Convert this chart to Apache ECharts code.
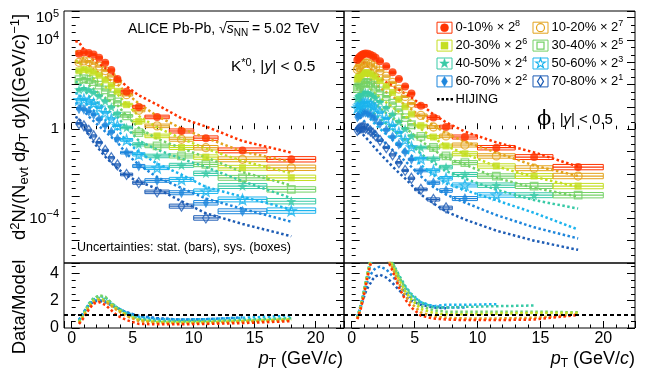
<!DOCTYPE html>
<html>
<head>
<meta charset="utf-8">
<script src="https://cdn.jsdelivr.net/npm/echarts@6/dist/echarts.min.js"></script>
<style>
html, body { margin: 0; padding: 0; background: #fff; }
#chart { width: 657px; height: 387px; }
</style>
</head>
<body>
<div id="chart"></div>
<script>
// all yields below are log10 of d2N/(Nevt dpT dy) including the 2^n scale factor
const classes = ['0-10%', '10-20%', '20-30%', '30-40%', '40-50%', '50-60%', '60-70%', '70-80%'];
const powers = [8, 7, 6, 5, 4, 3, 2, 1];
const colors = ['#ff3300', '#e3a31c', '#c4de22', '#74d166', '#38caa6', '#1cb4ee', '#1d86dc', '#1e5db5'];

// K*0
const kstarPt = [0.6, 1.0, 1.4, 1.8, 2.25, 2.75, 3.25, 3.75, 4.5, 5.5, 7, 9, 11, 14, 18];
const kstarEdges = [0.4, 0.8, 1.2, 1.6, 2.0, 2.5, 3.0, 3.5, 4.0, 5, 6, 8, 10, 12, 16, 20];
const kstarSys = [0.05, 0.05, 0.05, 0.05, 0.05, 0.05, 0.05, 0.05, 0.06, 0.07, 0.08, 0.09, 0.10, 0.11, 0.12];
const kstar0010 = [3.38, 3.45, 3.42, 3.35, 3.20, 2.98, 2.65, 2.25, 1.68, 1.00, 0.55, -0.08, -0.40, -0.95, -1.35];
const kstar1020 = [3.00, 3.06, 3.03, 2.96, 2.83, 2.63, 2.39, 2.13, 1.55, 0.85, 0.15, -0.45, -0.83, -1.35, -1.73];
const kstar2030 = [2.62, 2.68, 2.64, 2.56, 2.42, 2.21, 1.96, 1.70, 1.10, 0.35, -0.30, -0.82, -1.25, -1.73, -2.18];
const kstar3040 = [2.22, 2.27, 2.22, 2.13, 1.98, 1.76, 1.50, 1.23, 0.60, -0.15, -0.75, -1.20, -1.58, -2.18, -2.70];
const kstar4050 = [1.78, 1.82, 1.76, 1.66, 1.50, 1.27, 1.00, 0.72, 0.08, -0.68, -1.20, -1.62, -1.98, -2.55, -3.23];
const kstar5060 = [1.32, 1.34, 1.27, 1.16, 0.98, 0.74, 0.46, 0.17, -0.48, -1.13, -1.73, -2.25, -2.78, -3.15, -3.65];
const kstar6070 = [0.92, 0.90, 0.80, 0.66, 0.45, 0.18, -0.12, -0.43, -1.05, -1.65, -2.30, -2.85, -3.30, -3.68, null];
const kstar7080 = [0.25, 0.15, -0.05, -0.30, -0.60, -0.95, -1.28, -1.60, -2.03, -2.40, -2.81, -3.45, -3.98, null, null];

const kstarModelPt = [0.3, 0.6, 1.0, 1.4, 1.8, 2.25, 2.75, 3.25, 3.75, 4.5, 5.5, 7, 9, 11, 14, 18];
const kstarHij0010 = [3.95, 3.90, 3.57, 3.29, 3.09, 2.93, 2.75, 2.55, 2.30, 1.92, 1.52, 1.10, 0.49, 0.12, -0.53, -1.05];
const kstarHij1020 = [3.50, 3.46, 3.13, 2.87, 2.68, 2.52, 2.34, 2.18, 2.02, 1.61, 1.15, 0.59, 0.03, -0.39, -1.00, -1.47];
const kstarHij2030 = [3.06, 3.02, 2.70, 2.45, 2.26, 2.09, 1.90, 1.73, 1.57, 1.12, 0.59, 0.08, -0.42, -0.87, -1.43, -1.97];
const kstarHij3040 = [2.60, 2.57, 2.25, 1.99, 1.80, 1.60, 1.40, 1.23, 1.07, 0.60, 0.06, -0.43, -0.85, -1.26, -1.92, -2.52];
const kstarHij4050 = [2.12, 2.08, 1.78, 1.50, 1.32, 1.13, 0.92, 0.73, 0.55, 0.06, -0.51, -0.92, -1.32, -1.70, -2.33, -3.09];
const kstarHij5060 = [1.62, 1.58, 1.28, 1.03, 0.84, 0.64, 0.42, 0.20, -0.01, -0.53, -1.03, -1.54, -2.04, -2.59, -3.03, -3.60];
const kstarHij6070 = [1.18, 1.14, 0.82, 0.57, 0.36, 0.14, -0.11, -0.35, -0.59, -1.11, -1.59, -2.15, -2.64, -3.11, -3.57, -4.15];
const kstarHij7080 = [0.55, 0.49, 0.09, -0.27, -0.59, -0.90, -1.23, -1.51, -1.76, -2.09, -2.35, -2.67, -3.23, -3.77, -4.25, -4.80];

const kstarRatio0010 = [0.30, 0.75, 1.35, 1.80, 1.90, 1.70, 1.30, 0.90, 0.58, 0.30, 0.27, 0.27, 0.30, 0.36, 0.50];
const kstarRatio1020 = [0.35, 0.85, 1.45, 1.90, 2.05, 1.95, 1.62, 1.28, 0.88, 0.50, 0.36, 0.33, 0.36, 0.45, 0.55];
const kstarRatio2030 = [0.40, 0.95, 1.55, 2.00, 2.15, 2.05, 1.70, 1.35, 0.95, 0.58, 0.42, 0.40, 0.42, 0.50, 0.62];
const kstarRatio3040 = [0.45, 1.05, 1.70, 2.15, 2.40, 2.30, 1.85, 1.45, 1.00, 0.62, 0.48, 0.45, 0.48, 0.55, 0.66];
const kstarRatio4050 = [0.50, 1.10, 1.80, 2.20, 2.35, 2.25, 1.85, 1.48, 1.05, 0.68, 0.52, 0.50, 0.52, 0.60, 0.72];
const kstarRatio5060 = [0.55, 1.15, 1.75, 2.10, 2.20, 2.10, 1.80, 1.50, 1.12, 0.80, 0.65, 0.62, 0.65, 0.75, 0.90];
const kstarRatio6070 = [0.60, 1.20, 1.70, 2.00, 2.05, 1.95, 1.70, 1.45, 1.15, 0.88, 0.70, 0.62, 0.65, 0.78, null];
const kstarRatio7080 = [0.58, 1.15, 1.65, 1.95, 2.00, 1.90, 1.68, 1.45, 1.15, 0.90, 0.72, 0.60, 0.62, null, null];

// phi
const phiPt = [0.45, 0.55, 0.65, 0.75, 0.85, 0.95, 1.1, 1.3, 1.5, 1.7, 1.9, 2.25, 2.75, 3.25, 3.75, 4.25, 4.75, 5.5, 6.5, 7.5, 9, 11.5, 14.5, 18];
const phiEdges = [0.4, 0.5, 0.6, 0.7, 0.8, 0.9, 1.0, 1.2, 1.4, 1.6, 1.8, 2.0, 2.5, 3.0, 3.5, 4.0, 4.5, 5.0, 6, 7, 8, 10, 13, 16, 20];
const phiSys = [0.05, 0.05, 0.05, 0.05, 0.05, 0.05, 0.05, 0.05, 0.05, 0.05, 0.05, 0.05, 0.05, 0.05, 0.05, 0.05, 0.05, 0.06, 0.07, 0.08, 0.09, 0.10, 0.11, 0.12];
const phi0010 = [3.10, 3.18, 3.25, 3.30, 3.34, 3.37, 3.39, 3.38, 3.34, 3.28, 3.20, 3.05, 2.82, 2.55, 2.25, 1.92, 1.60, 1.05, 0.52, 0.10, -0.35, -0.83, -1.25, -1.70];
const phi1020 = [2.68, 2.76, 2.83, 2.88, 2.92, 2.95, 2.97, 2.96, 2.92, 2.86, 2.78, 2.62, 2.38, 2.10, 1.80, 1.47, 1.15, 0.62, 0.10, -0.30, -0.71, -1.20, -1.75, -2.10];
const phi2030 = [2.25, 2.33, 2.40, 2.45, 2.49, 2.52, 2.54, 2.53, 2.49, 2.42, 2.34, 2.18, 1.93, 1.65, 1.34, 1.01, 0.68, 0.16, -0.35, -0.75, -1.10, -1.65, -2.10, -2.55];
const phi3040 = [1.82, 1.90, 1.97, 2.02, 2.06, 2.09, 2.10, 2.09, 2.04, 1.97, 1.89, 1.72, 1.46, 1.17, 0.86, 0.52, 0.20, -0.32, -0.82, -1.20, -1.50, -2.10, -2.55, -2.96];
const phi4050 = [1.38, 1.46, 1.53, 1.58, 1.62, 1.64, 1.65, 1.63, 1.58, 1.50, 1.41, 1.24, 0.97, 0.67, 0.35, 0.02, -0.30, -0.82, -1.32, -1.70, -2.03, -2.51, -2.96, null];
const phi5060 = [0.95, 1.03, 1.10, 1.15, 1.18, 1.20, 1.21, 1.18, 1.12, 1.04, 0.94, 0.76, 0.48, 0.17, -0.15, -0.48, -0.80, -1.32, -1.85, -2.20, -2.50, -2.95, null, null];
const phi6070 = [0.55, 0.62, 0.68, 0.72, 0.75, 0.76, 0.76, 0.72, 0.65, 0.56, 0.46, 0.26, -0.03, -0.35, -0.68, -1.02, -1.35, -1.85, -2.40, -2.75, -3.11, null, null, null];
const phi7080 = [-0.05, 0.00, 0.04, 0.06, 0.07, 0.07, 0.05, 0.00, -0.08, -0.18, -0.29, -0.50, -0.82, -1.15, -1.50, -1.85, -2.20, -2.70, -3.15, -3.53, null, null, null, null];

const phiModelPt = [0.3, 0.45, 0.55, 0.65, 0.75, 0.85, 0.95, 1.1, 1.3, 1.5, 1.7, 1.9, 2.25, 2.75, 3.25, 3.75, 4.25, 4.75, 5.5, 6.5, 7.5, 9, 11.5, 14.5, 18];
const phiHij0010 = [3.30, 3.29, 3.23, 3.17, 3.12, 3.06, 3.01, 2.91, 2.79, 2.67, 2.56, 2.45, 2.30, 2.10, 1.93, 1.77, 1.60, 1.42, 1.10, 0.67, 0.31, -0.11, -0.59, -1.04, -1.68];
const phiHij1020 = [2.87, 2.85, 2.78, 2.72, 2.68, 2.62, 2.57, 2.48, 2.36, 2.24, 2.13, 2.02, 1.86, 1.66, 1.46, 1.28, 1.09, 0.89, 0.56, 0.17, -0.18, -0.56, -1.05, -1.63, -2.10];
const phiHij2030 = [2.42, 2.40, 2.33, 2.27, 2.22, 2.17, 2.12, 2.03, 1.92, 1.80, 1.68, 1.58, 1.42, 1.20, 0.99, 0.78, 0.58, 0.36, 0.01, -0.39, -0.75, -1.10, -1.67, -2.14, -2.59];
const phiHij3040 = [1.98, 1.96, 1.88, 1.82, 1.78, 1.73, 1.68, 1.58, 1.47, 1.34, 1.22, 1.12, 0.95, 0.72, 0.49, 0.28, 0.06, -0.16, -0.52, -0.93, -1.28, -1.58, -2.18, -2.63, -3.02];
const phiHij4050 = [1.52, 1.50, 1.42, 1.37, 1.32, 1.28, 1.23, 1.13, 1.01, 0.88, 0.76, 0.65, 0.48, 0.24, -0.01, -0.24, -0.47, -0.70, -1.10, -1.50, -1.88, -2.22, -2.71, -3.18, -3.56];
const phiHij5060 = [1.08, 1.06, 0.99, 0.94, 0.89, 0.84, 0.79, 0.70, 0.58, 0.45, 0.32, 0.20, 0.02, -0.23, -0.48, -0.72, -0.96, -1.18, -1.60, -2.05, -2.43, -2.73, -3.19, -3.75, -4.50];
const phiHij6070 = [0.67, 0.65, 0.58, 0.53, 0.49, 0.44, 0.38, 0.30, 0.18, 0.06, -0.06, -0.18, -0.39, -0.66, -0.93, -1.19, -1.43, -1.69, -2.11, -2.60, -2.93, -3.29, -3.85, -4.40, -4.90];
const phiHij7080 = [0.07, 0.05, -0.02, -0.07, -0.14, -0.21, -0.27, -0.36, -0.48, -0.60, -0.74, -0.87, -1.09, -1.39, -1.67, -1.95, -2.21, -2.50, -2.93, -3.33, -3.69, -4.05, -4.55, -5.00, -5.41];

const phiRatio0010 = [0.65, 0.90, 1.20, 1.50, 1.90, 2.30, 3.00, 3.90, 4.70, 5.30, 5.60, 5.60, 5.20, 4.20, 3.00, 2.10, 1.50, 0.90, 0.70, 0.62, 0.58, 0.58, 0.62, 0.95];
const phiRatio1020 = [0.68, 0.95, 1.30, 1.60, 2.00, 2.40, 3.10, 4.00, 4.80, 5.40, 5.70, 5.70, 5.30, 4.40, 3.30, 2.40, 1.80, 1.15, 0.85, 0.75, 0.70, 0.70, 0.75, 1.00];
const phiRatio2030 = [0.70, 1.00, 1.35, 1.70, 2.10, 2.50, 3.20, 4.10, 4.90, 5.50, 5.80, 5.80, 5.40, 4.60, 3.60, 2.70, 2.10, 1.40, 1.10, 1.00, 1.00, 1.05, 1.10, 1.10];
const phiRatio3040 = [0.72, 1.05, 1.40, 1.75, 2.15, 2.60, 3.30, 4.20, 5.00, 5.60, 5.90, 5.90, 5.50, 4.80, 3.80, 2.90, 2.30, 1.60, 1.30, 1.20, 1.20, 1.20, 1.20, 1.15];
const phiRatio4050 = [0.75, 1.10, 1.45, 1.80, 2.20, 2.60, 3.30, 4.20, 5.00, 5.50, 5.80, 5.80, 5.40, 4.80, 3.90, 3.10, 2.50, 1.90, 1.50, 1.50, 1.55, 1.60, 1.65, null];
const phiRatio5060 = [0.78, 1.10, 1.45, 1.80, 2.20, 2.60, 3.20, 4.00, 4.70, 5.20, 5.50, 5.50, 5.10, 4.50, 3.70, 3.00, 2.40, 1.90, 1.60, 1.70, 1.70, 1.75, null, null];
const phiRatio6070 = [0.80, 1.10, 1.40, 1.70, 2.05, 2.40, 2.90, 3.50, 3.90, 4.20, 4.40, 4.50, 4.30, 3.80, 3.20, 2.60, 2.20, 1.80, 1.60, 1.50, 1.50, null, null, null];
const phiRatio7080 = [0.80, 1.05, 1.30, 1.60, 1.90, 2.20, 2.60, 3.00, 3.30, 3.60, 3.80, 3.90, 3.70, 3.30, 2.80, 2.30, 2.00, 1.70, 1.50, 1.45, null, null, null, null];

const kstarData = [kstar0010, kstar1020, kstar2030, kstar3040, kstar4050, kstar5060, kstar6070, kstar7080];
const kstarHij = [kstarHij0010, kstarHij1020, kstarHij2030, kstarHij3040, kstarHij4050, kstarHij5060, kstarHij6070, kstarHij7080];
const kstarRatio = [kstarRatio0010, kstarRatio1020, kstarRatio2030, kstarRatio3040, kstarRatio4050, kstarRatio5060, kstarRatio6070, kstarRatio7080];
const phiData = [phi0010, phi1020, phi2030, phi3040, phi4050, phi5060, phi6070, phi7080];
const phiHij = [phiHij0010, phiHij1020, phiHij2030, phiHij3040, phiHij4050, phiHij5060, phiHij6070, phiHij7080];
const phiRatio = [phiRatio0010, phiRatio1020, phiRatio2030, phiRatio3040, phiRatio4050, phiRatio5060, phiRatio6070, phiRatio7080];

const F = "'Liberation Sans', Arial, Helvetica, sans-serif";
const STAR = 'path://M0,-10L2.35,-3.24L9.51,-3.09L3.8,1.24L5.88,8.09L0,4L-5.88,8.09L-3.8,1.24L-9.51,-3.09L-2.35,-3.24Z';
const markerSymbols = ['circle', 'circle', 'rect', 'rect', STAR, STAR, 'diamond', 'diamond'];
const markerSizes = [8, 8, 7, 7.5, 10, 10, [6, 11], [6.5, 10]];

function rich(size) {
    let small = Math.round(size * 0.68);
    return {
        n: {fontSize: size, fontFamily: F, color: '#000', lineHeight: size + 4},
        i: {fontSize: size, fontFamily: F, fontStyle: 'italic', color: '#000', lineHeight: size + 4},
        phi: {fontSize: size + 6, fontFamily: "'DejaVu Serif', 'Liberation Serif', serif", color: '#000', lineHeight: size + 4},
        s: {fontSize: small, fontFamily: F, color: '#000', lineHeight: small, verticalAlign: 'top'},
        sub: {fontSize: small, fontFamily: F, color: '#000', lineHeight: small, verticalAlign: 'bottom'}
    };
}

function markerStyle(i) {
    let open = i % 2 === 1;
    return {
        symbol: markerSymbols[i],
        symbolSize: markerSizes[i],
        itemStyle: open
            ? {color: 'rgba(255,255,255,0)', borderColor: colors[i], borderWidth: 1.3}
            : {color: colors[i], borderWidth: 0}
    };
}

function boxRenderer(col) {
    return function (params, api) {
        let lo = api.value(0), hi = api.value(1), v = api.value(2), s = api.value(3);
        let p1 = api.coord([lo, v + s]);
        let p2 = api.coord([hi, v - s]);
        let c = api.coord([lo, v]);
        let d = api.coord([hi, v]);
        return {
            type: 'group',
            children: [
                {type: 'rect', shape: {x: p1[0], y: p1[1], width: p2[0] - p1[0], height: p2[1] - p1[1]},
                    style: {fill: 'none', stroke: col, lineWidth: 1}},
                {type: 'line', shape: {x1: c[0], y1: c[1], x2: d[0], y2: d[1]},
                    style: {stroke: col, lineWidth: 1.2}}
            ]
        };
    };
}

let series = [];

function addSpectra(pt, edges, sys, data, modelPt, model, xi, yi) {
    for (let i = 7; i >= 0; i--) {
        let boxes = [], pts = [], line = [];
        data[i].forEach(function (v, j) {
            if (v === null) return;
            boxes.push([edges[j], edges[j + 1], v, sys[j]]);
            pts.push([pt[j], v]);
        });
        model[i].forEach(function (v, j) {
            if (v !== null) line.push([modelPt[j], v]);
        });
        series.push({
            type: 'custom', xAxisIndex: xi, yAxisIndex: yi, z: 2, clip: true,
            data: boxes, encode: {x: [0, 1], y: 2}, renderItem: boxRenderer(colors[i])
        });
        series.push({
            type: 'line', xAxisIndex: xi, yAxisIndex: yi, z: 3, data: line,
            symbol: 'none', showSymbol: false,
            lineStyle: {color: colors[i], width: 2.5, type: [2.5, 2.5]}
        });
        series.push(Object.assign({
            type: 'scatter', xAxisIndex: xi, yAxisIndex: yi, z: 4, data: pts
        }, markerStyle(i)));
    }
}

function addRatios(pt, ratios, xi, yi) {
    for (let i = 7; i >= 0; i--) {
        let line = [];
        ratios[i].forEach(function (v, j) {
            if (v !== null) line.push([pt[j], v]);
        });
        let s = {
            type: 'line', xAxisIndex: xi, yAxisIndex: yi, z: 3, data: line,
            symbol: 'none', showSymbol: false,
            lineStyle: {color: colors[i], width: 2.5, type: [2.5, 2.5]}
        };
        if (i === 0) {
            s.z = 4;
            s.markLine = {
                silent: true, symbol: 'none', label: {show: false},
                lineStyle: {color: '#000', width: 2, type: [4, 3]},
                data: [{yAxis: 1}]
            };
        }
        series.push(s);
    }
}

addSpectra(kstarPt, kstarEdges, kstarSys, kstarData, kstarModelPt, kstarHij, 0, 0);
addSpectra(phiPt, phiEdges, phiSys, phiData, phiModelPt, phiHij, 1, 2);
addRatios(kstarPt, kstarRatio, 2, 4);
addRatios(phiPt, phiRatio, 3, 6);

let grids = [
    {left: 64, top: 11, width: 280, height: 252},
    {left: 344, top: 11, width: 291, height: 252},
    {left: 64, top: 263, width: 280, height: 65},
    {left: 344, top: 263, width: 291, height: 65}
].map(function (g) {
    return Object.assign({show: true, borderColor: '#000', borderWidth: 1, backgroundColor: 'transparent'}, g);
});

const xRange = [[-0.63, 22.32], [-0.61, 22.52]];
let xAxes = [0, 1, 2, 3].map(function (g) {
    return {
        type: 'value', gridIndex: g, position: 'bottom',
        min: xRange[g % 2][0], max: xRange[g % 2][1],
        axisLine: {show: false},
        axisTick: {show: true, inside: true, length: g < 2 ? 6 : 7, lineStyle: {color: '#000', width: 1}},
        minorTick: {show: true, splitNumber: 5, length: 3.5, lineStyle: {color: '#000', width: 1}},
        splitLine: {show: false},
        axisLabel: {
            show: g >= 2, margin: 3, fontSize: 16, fontFamily: F, color: '#000',
            formatter: function (v) {
                let r = Math.round(v);
                return (Math.abs(v - r) < 1e-6 && r % 5 === 0) ? String(r) : '';
            }
        }
    };
});

function logLabel(v) {
    let r = Math.round(v);
    if (Math.abs(v - r) > 1e-6) return '';
    if (r === 0) return '{b|1}';
    if (r === 5 || r === 4) return '{b|10}{s|' + r + '}';
    if (r === -4) return '{b|10}{s|\u2212' + 4 + '}';
    return '';
}

let yAxes = [];
[0, 1, 2, 3].forEach(function (g) {
    ['left', 'right'].forEach(function (pos) {
        let top = g < 2;
        yAxes.push({
            type: 'value', gridIndex: g, position: pos,
            min: top ? -6 : 0, max: top ? 5.301 : 4.77, interval: top ? 1 : 2,
            axisLine: {show: false},
            axisTick: {show: true, inside: true, length: 8, lineStyle: {color: '#000', width: 1}},
            minorTick: {show: true, splitNumber: top ? 3 : 4, length: 4, lineStyle: {color: '#000', width: 1}},
            splitLine: {show: false},
            axisLabel: {
                show: pos === 'left' && g % 2 === 0, margin: 5, color: '#000',
                fontSize: 16, fontFamily: F,
                formatter: top ? logLabel : function (v) {
                    return (v === 0 || v === 2 || v === 4) ? String(v) : '';
                },
                rich: {
                    b: {fontSize: 15.5, fontFamily: F, color: '#000', lineHeight: 19},
                    s: {fontSize: 11, fontFamily: F, color: '#000', lineHeight: 11, verticalAlign: 'top'}
                }
            }
        });
    });
});

function starPoints(cx, cy, R) {
    let pts = [];
    for (let k = 0; k < 10; k++) {
        let a = -Math.PI / 2 + k * Math.PI / 5;
        let rr = k % 2 === 0 ? R : R * 0.4;
        pts.push([cx + rr * Math.cos(a), cy + rr * Math.sin(a)]);
    }
    return pts;
}

function legendMarker(i, cx, cy) {
    let open = i % 2 === 1;
    let style = open ? {fill: '#fff', stroke: colors[i], lineWidth: 1.2} : {fill: colors[i], stroke: colors[i], lineWidth: 0.5};
    let kind = Math.floor(i / 2);
    if (kind === 0) return {type: 'circle', shape: {cx: cx, cy: cy, r: 4}, style: style};
    if (kind === 1) return {type: 'rect', shape: {x: cx - 3.5, y: cy - 3.5, width: 7, height: 7}, style: style};
    if (kind === 2) return {type: 'polygon', shape: {points: starPoints(cx, cy, 5)}, style: style};
    return {type: 'polygon', shape: {points: [[cx, cy - 5], [cx + 3, cy], [cx, cy + 5], [cx - 3, cy]]}, style: style};
}

function txt(x, y, text, size, align, rot) {
    return {
        type: 'text', x: x, y: y, rotation: rot || 0, silent: true,
        style: {
            text: text, rich: rich(size), fontSize: size, fontFamily: F, fill: '#000',
            align: align, textAlign: align, verticalAlign: 'middle', textVerticalAlign: 'middle'
        }
    };
}

let graphics = [];
for (let i = 0; i < 8; i++) {
    let col = i % 2, row = Math.floor(i / 2);
    let bx = col ? 533 : 437, cy = 27.7 + 17.9 * row;
    graphics.push({type: 'rect', shape: {x: bx, y: cy - 5.5, width: 15, height: 11},
        style: {fill: '#fff', stroke: colors[i], lineWidth: 1}, silent: true});
    graphics.push(legendMarker(i, bx + 7.5, cy));
    graphics.push(txt(bx + 18.5, cy, '{n|' + classes[i] + ' \u00d7 2}{s|' + powers[i] + '}', 13, 'left'));
}
graphics.push({type: 'line', shape: {x1: 437, y1: 99.3, x2: 453, y2: 99.3},
    style: {stroke: '#000', lineWidth: 2.5, lineDash: [2.5, 2]}, silent: true});
graphics.push(txt(455.5, 99.3, '{n|HIJING}', 13, 'left'));

graphics.push(txt(128, 29.5, '{n|ALICE Pb-Pb, \u221A}{i|s}{sub|NN}{n| = 5.02 TeV}', 14, 'left'));
graphics.push({type: 'line', shape: {x1: 226, y1: 21.5, x2: 249, y2: 21.5}, style: {stroke: '#000', lineWidth: 0.9}, silent: true});
graphics.push(txt(231, 67, '{n|K}{s|*0}{n|, |}{i|y}{n|| < 0.5}', 15.5, 'left'));
graphics.push(txt(537, 120, '{phi|\u03D5}{n|, |}{i|y}{n|| < 0.5}', 15, 'left'));
graphics.push(txt(77, 248, '{n|Uncertainties: stat. (bars), sys. (boxes)}', 12.5, 'left'));
graphics.push(txt(343, 359, '{i|p}{sub|T}{n| (GeV/}{i|c}{n|)}', 18, 'right'));
graphics.push(txt(635, 359, '{i|p}{sub|T}{n| (GeV/}{i|c}{n|)}', 18, 'right'));
graphics.push(txt(20, 127, '{n|d}{s|2}{n|N/(N}{sub|evt}{n| d}{i|p}{sub|T}{n| d}{i|y}{n|)[(GeV/}{i|c}{n|)}{s|\u22121}{n|]}', 18.5, 'center', Math.PI / 2));
graphics.push(txt(20, 307, '{n|Data/Model}', 18.5, 'center', Math.PI / 2));

let myChart = echarts.init(document.getElementById('chart'), null, {renderer: 'canvas'});
let option = {
    animation: false,
    backgroundColor: '#fff',
    grid: grids,
    xAxis: xAxes,
    yAxis: yAxes,
    series: series,
    graphic: {elements: graphics}
};
option && myChart.setOption(option);
</script>
</body>
</html>
